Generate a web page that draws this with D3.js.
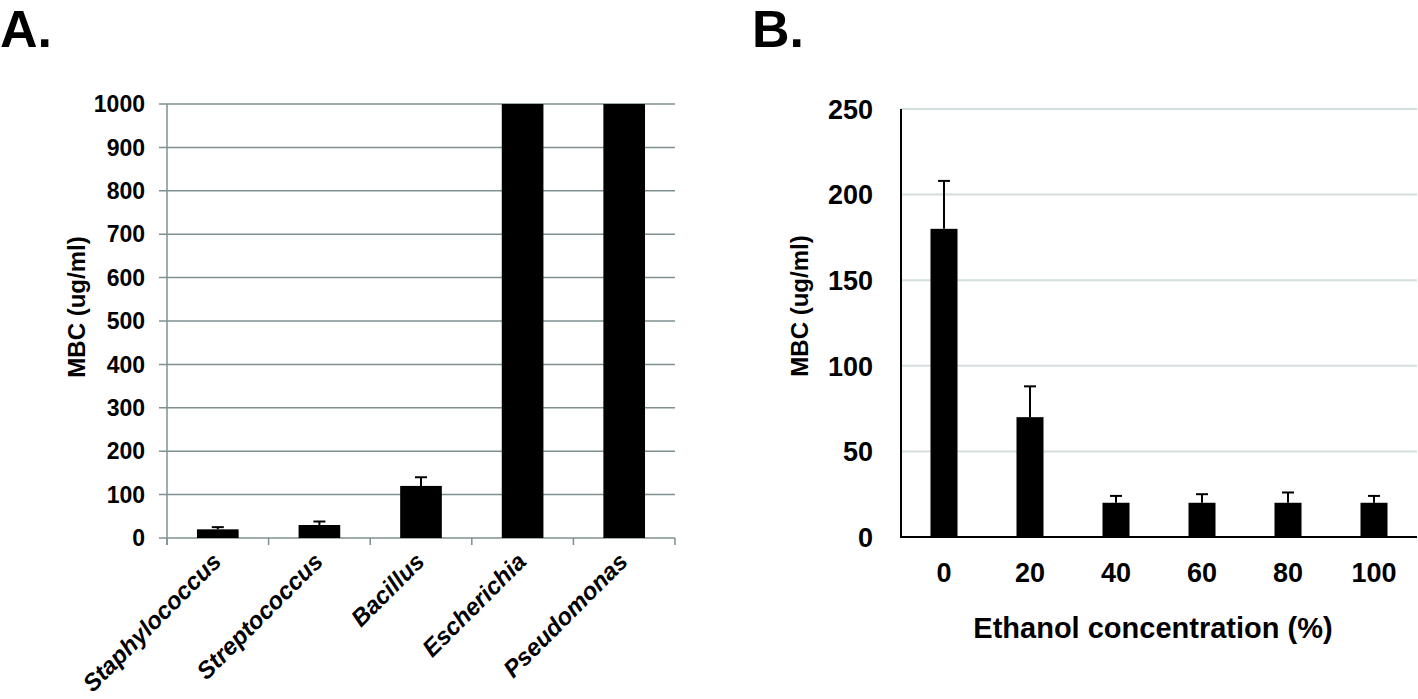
<!DOCTYPE html>
<html>
<head>
<meta charset="utf-8">
<script src="https://cdn.jsdelivr.net/npm/d3@7"></script>
<style>
  html, body { margin: 0; padding: 0; background: #fff; }
  svg { display: block; font-family: "Liberation Sans", Arial, Helvetica, sans-serif; font-weight: bold; }
</style>
</head>
<body>
<svg id="chart" width="1418" height="699"></svg>
<script>
// ---- Panel A data ----
const catsA = ["Staphylococcus", "Streptococcus", "Bacillus", "Escherichia", "Pseudomonas"];
const valsA = [20, 30, 120, 1000, 1000];
const errA = [5, 8, 20, 0, 0];
const ticksA = [0, 100, 200, 300, 400, 500, 600, 700, 800, 900, 1000];

// ---- Panel B data ----
const catsB = ["0", "20", "40", "60", "80", "100"];
const valsB = [180, 70, 20, 20, 20, 20];
const errB = [28, 18, 4, 5, 6, 4];
const ticksB = [0, 50, 100, 150, 200, 250];

const svg = d3.select("#chart");

// Panel letters
svg.append("text").attr("x", 0).attr("y", 47).attr("font-size", 52).text("A.");
svg.append("text").attr("x", 752).attr("y", 47).attr("font-size", 52).text("B.");

// ================= Panel A =================
const gA = svg.append("g");
const xA = d3.scaleBand().domain(catsA).range([167, 675]).paddingInner(0.59).paddingOuter(0.295);
const yA = d3.scaleLinear().domain([0, 1000]).range([538, 104]);
const gridA = "#7f9090";

gA.selectAll("line.grid").data(ticksA).join("line")
  .attr("x1", 159).attr("x2", 675)
  .attr("y1", d => yA(d)).attr("y2", d => yA(d))
  .attr("stroke", gridA).attr("stroke-width", 1.5);
gA.append("line").attr("x1", 167).attr("x2", 167).attr("y1", yA(1000)).attr("y2", 545)
  .attr("stroke", gridA).attr("stroke-width", 1.5);
const boundsA = d3.range(catsA.length + 1).map(i => 167 + i * xA.step());
gA.selectAll("line.xt").data(boundsA).join("line")
  .attr("x1", d => d).attr("x2", d => d).attr("y1", 538).attr("y2", 545)
  .attr("stroke", gridA).attr("stroke-width", 1.5);
gA.selectAll("text.yl").data(ticksA).join("text")
  .attr("x", 145).attr("y", d => yA(d)).attr("dy", "0.36em")
  .attr("text-anchor", "end").attr("font-size", 23).text(d => d);
gA.selectAll("rect.bar").data(catsA).join("rect")
  .attr("x", d => xA(d)).attr("width", xA.bandwidth())
  .attr("y", (d, i) => yA(valsA[i])).attr("height", (d, i) => yA(0) - yA(valsA[i]))
  .attr("fill", "#000");
catsA.forEach((c, i) => {
  if (errA[i] <= 0) return;
  const cx = xA(c) + xA.bandwidth() / 2;
  gA.append("line").attr("x1", cx).attr("x2", cx)
    .attr("y1", yA(valsA[i])).attr("y2", yA(valsA[i] + errA[i]))
    .attr("stroke", "#000").attr("stroke-width", 2);
  gA.append("line").attr("x1", cx - 6).attr("x2", cx + 6)
    .attr("y1", yA(valsA[i] + errA[i])).attr("y2", yA(valsA[i] + errA[i]))
    .attr("stroke", "#000").attr("stroke-width", 2);
});
gA.selectAll("text.xl").data(catsA).join("text")
  .attr("transform", d => `translate(${xA(d) + xA.bandwidth() / 2 + 5},${563}) rotate(-45)`)
  .attr("text-anchor", "end").attr("font-size", 24).attr("font-style", "italic")
  .text(d => d);
gA.append("text").attr("transform", "translate(85,307) rotate(-90)")
  .attr("text-anchor", "middle").attr("font-size", 24).text("MBC (ug/ml)");

// ================= Panel B =================
const gB = svg.append("g");
const xB = d3.scaleBand().domain(catsB).range([901, 1417]).paddingInner(0.686).paddingOuter(0.343);
const yB = d3.scaleLinear().domain([0, 250]).range([537, 109]);

gB.selectAll("line.grid").data(ticksB.filter(d => d > 0)).join("line")
  .attr("x1", 901).attr("x2", 1417)
  .attr("y1", d => yB(d)).attr("y2", d => yB(d))
  .attr("stroke", "#d3dfdf").attr("stroke-width", 2);
gB.selectAll("text.yl").data(ticksB).join("text")
  .attr("x", 873).attr("y", d => yB(d)).attr("dy", "0.36em")
  .attr("text-anchor", "end").attr("font-size", 27).text(d => d);
gB.selectAll("rect.bar").data(catsB).join("rect")
  .attr("x", d => xB(d)).attr("width", xB.bandwidth())
  .attr("y", (d, i) => yB(valsB[i])).attr("height", (d, i) => yB(0) - yB(valsB[i]))
  .attr("fill", "#000");
catsB.forEach((c, i) => {
  const cx = xB(c) + xB.bandwidth() / 2;
  gB.append("line").attr("x1", cx).attr("x2", cx)
    .attr("y1", yB(valsB[i])).attr("y2", yB(valsB[i] + errB[i]))
    .attr("stroke", "#000").attr("stroke-width", 2);
  gB.append("line").attr("x1", cx - 6).attr("x2", cx + 6)
    .attr("y1", yB(valsB[i] + errB[i])).attr("y2", yB(valsB[i] + errB[i]))
    .attr("stroke", "#000").attr("stroke-width", 2);
});
gB.append("line").attr("x1", 901).attr("x2", 901).attr("y1", yB(250)).attr("y2", yB(0) + 1)
  .attr("stroke", "#000").attr("stroke-width", 2);
gB.append("line").attr("x1", 900).attr("x2", 1417).attr("y1", yB(0)).attr("y2", yB(0))
  .attr("stroke", "#000").attr("stroke-width", 2);
gB.selectAll("text.xl").data(catsB).join("text")
  .attr("x", d => xB(d) + xB.bandwidth() / 2).attr("y", 582)
  .attr("text-anchor", "middle").attr("font-size", 27).text(d => d);
gB.append("text").attr("transform", "translate(808,306) rotate(-90)")
  .attr("text-anchor", "middle").attr("font-size", 24).text("MBC (ug/ml)");
gB.append("text").attr("x", 1153).attr("y", 638)
  .attr("text-anchor", "middle").attr("font-size", 29).text("Ethanol concentration (%)");
</script>
</body>
</html>
